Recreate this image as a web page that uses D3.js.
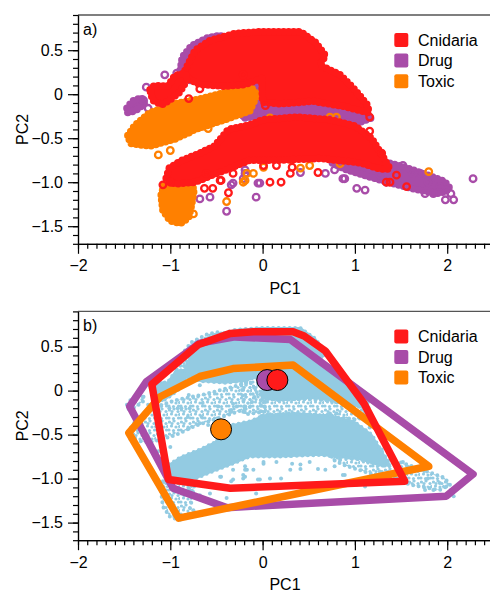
<!DOCTYPE html>
<html>
<head>
<meta charset="utf-8">
<script src="https://cdn.jsdelivr.net/npm/d3@7"></script>
<style>
  body { margin: 0; background: #fff; }
  text { font-family: "Liberation Sans", Arial, Helvetica, sans-serif; }
</style>
</head>
<body>
<svg id="chart" width="490" height="594"></svg>
<script>
// ---- data (PC1, PC2) ----
const seriesNames = ["Cnidaria", "Drug", "Toxic"];
const seriesColors = ["#ff1a1a", "#a84ca8", "#ff8000"];
const cloudColor = "#93cbe2";

const xTicks = [-2, -1, 0, 1, 2];
const xTickLabels = ["\u22122", "\u22121", "0", "1", "2"];
const yTicks = [-1.5, -1, -0.5, 0, 0.5];
const yTickLabels = ["\u22121.5", "\u22121.0", "\u22120.5", "0", "0.5"];

// outlines of the areas where the points are so dense they overlap into a solid patch
const cnidariaBlobs = [
  [[-0.84,0.27],[-0.73,0.50],[-0.57,0.61],[-0.30,0.69],[-0.03,0.71],[0.41,0.71],[0.57,0.59],[0.68,0.44],
   [0.62,0.33],[0.84,0.22],[1.00,0.05],[1.14,-0.13],[1.15,-0.21],[0.89,-0.14],[0.55,-0.08],[0.19,-0.11],
   [0.00,-0.09],[-0.01,0.18],[-0.19,0.11],[-0.41,0.09],[-0.68,0.11],[-0.81,0.18]],
  [[-1.22,0.05],[-1.17,0.10],[-1.03,0.09],[-0.95,0.21],[-0.84,0.24],[-0.82,0.16],[-0.90,0.02],
   [-1.00,-0.06],[-1.09,-0.12],[-1.19,-0.07]],
  [[-1.01,-0.84],[-0.89,-0.76],[-0.68,-0.67],[-0.52,-0.59],[-0.37,-0.40],[-0.14,-0.35],[0.00,-0.29],
   [0.37,-0.26],[0.73,-0.29],[1.00,-0.36],[1.18,-0.50],[1.32,-0.74],[1.38,-0.85],[1.27,-0.85],
   [1.06,-0.78],[0.62,-0.73],[0.19,-0.75],[-0.14,-0.75],[-0.35,-0.84],[-0.57,-0.93],[-0.73,-1.00],
   [-0.95,-1.02],[-1.05,-0.97]]
];
const drugBlobs = [
  [[-1.47,-0.16],[-1.41,-0.08],[-1.31,-0.04],[-1.28,-0.11],[-1.38,-0.19],[-1.46,-0.21]],
  [[-0.90,0.22],[-0.87,0.42],[-0.77,0.55],[-0.60,0.64],[-0.45,0.67],[-0.45,0.30],[-0.80,0.15]],
  [[-0.24,0.15],[-0.01,0.19],[0.03,-0.24],[-0.19,-0.27]],
  [[-0.02,-0.04],[0.30,-0.09],[0.70,-0.11],[1.05,-0.18],[1.18,-0.27],[1.02,-0.33],[0.70,-0.29],
   [0.30,-0.26],[-0.02,-0.29]],
  [[0.75,-0.66],[1.06,-0.66],[1.33,-0.77],[1.54,-0.83],[1.76,-0.91],[1.97,-0.99],[2.03,-1.07],
   [1.92,-1.13],[1.65,-1.08],[1.43,-1.02],[1.16,-0.94],[0.89,-0.85],[0.75,-0.78]]
];
const toxicBlobs = [
  [[-1.46,-0.47],[-1.38,-0.35],[-1.22,-0.21],[-0.95,-0.11],[-0.62,-0.04],[-0.30,0.05],[-0.14,0.10],
   [-0.06,-0.01],[-0.14,-0.19],[-0.41,-0.29],[-0.73,-0.40],[-0.95,-0.51],[-1.22,-0.59],[-1.43,-0.56]],
  [[-1.07,-1.04],[-0.89,-1.02],[-0.74,-1.07],[-0.77,-1.26],[-0.80,-1.40],[-0.89,-1.47],[-1.00,-1.44],
   [-1.08,-1.32],[-1.10,-1.15]]
];

// single points that stand apart from the dense patches
const cnidariaPoints = [
  [1.56,-1.05],[1.34,-1.00],[1.45,-0.92],[0.08,-1.00],[0.20,-1.00],[0.30,-0.90],[0.32,-0.83],[0.60,-0.89],
  [1.16,-0.42],[1.29,-0.67],[1.38,-1.00],[0.15,-0.81],[0.01,-0.81],[0.03,-0.13],[-1.00,-1.00],[-1.08,-1.03],
  [-0.37,-1.12],[-0.46,-0.98],[-0.61,-0.90],[-0.80,-0.05],[-0.68,0.06],[-0.21,0.22],[-0.54,-1.07],
  [-0.63,-1.07],[-0.32,-0.90],[-0.45,-0.98],[1.16,-0.26]
];
const drugPoints = [
  [2.28,-0.96],[1.99,-1.09],[1.92,-1.05],[1.76,-1.13],[1.98,-1.20],[1.52,-0.81],[1.11,-1.09],[1.02,-1.07],
  [0.89,-0.96],[-0.07,-1.17],[-0.03,-1.01],[-0.19,-0.90],[1.13,-0.26],[-1.26,0.08],[-1.29,-0.07],
  [-0.97,0.05],[-0.88,-0.20],[-0.79,-0.20],[-1.06,0.22],[-0.93,0.24],[-0.59,-0.90],[-0.68,-1.19],
  [-0.39,-1.33],[-0.97,-1.01],[-0.32,-1.01],[-1.24,-0.16],[-0.92,-0.20],[-1.01,-0.20],[-0.57,-1.17],
  [-0.34,-1.03],[-0.19,-0.86],[-0.95,-1.11],[1.71,-0.90],[1.79,-1.00],[1.34,-1.00],[1.63,-0.90],
  [0.19,-0.27],[-0.21,-0.24],[-0.05,-1.01],[-0.21,-0.96],[1.85,-1.13],[0.68,-0.90],[0.87,-0.96],
  [0.41,-0.89],[0.78,-0.86],[1.27,-0.92],[2.04,-1.13],[2.07,-1.20]
];
const toxicPoints = [
  [1.80,-0.88],[0.84,-0.79],[0.51,-0.81],[0.41,-0.84],[0.30,-0.74],[-0.21,-1.00],[-0.10,-0.90],
  [0.80,-0.26],[0.73,-0.26],[-1.13,-0.69],[-1.00,-0.64],[-0.80,-0.43],[-0.68,-0.37],[-0.59,-0.39],
  [-0.35,-0.24],[-0.28,-0.18],[-0.39,-1.22],[-0.80,-1.11],[-0.17,-0.90],[-0.19,-0.98],[-0.77,-1.15],
  [-0.75,-1.36],[-0.66,-0.30],[-0.81,-0.30],[-0.48,-0.18],[-0.65,-0.14],[-0.34,-0.22],[-0.19,-0.18],
  [-0.32,-0.15],[0.08,-0.27],[0.24,-0.30],[0.57,-0.31],[0.01,-0.83],[0.11,-0.69],[0.22,-0.73],[0.44,-0.72]
];

// convex hulls and centroids of panel b
const hullCnidaria = [[-1.20,0.07],[-1.02,-1.01],[-0.35,-1.11],[1.54,-1.03],[1.10,-0.15],[0.68,0.45],
  [0.45,0.62],[0.33,0.67],[-0.10,0.67],[-0.35,0.65],[-0.70,0.52]];
const hullDrug = [[-1.44,-0.18],[-1.26,0.10],[-0.68,0.54],[-0.30,0.61],[0.30,0.58],[2.28,-0.95],
  [1.99,-1.20],[-0.39,-1.33],[-0.97,-1.11]];
const hullToxic = [[-1.45,-0.48],[-0.91,-1.45],[1.80,-0.86],[0.33,0.29],[-0.32,0.25],[-0.68,0.16],[-1.11,-0.07]];
const centroidCnidaria = [0.16, 0.12];
const centroidDrug = [0.05, 0.12];
const centroidToxic = [-0.45, -0.44];

// ---- drawing ----
const svg = d3.select("#chart");
const x = d3.scaleLinear().domain([-2, 2.5]).range([78, 493.35]);

// uneven dotted texture for the looser parts of the cloud in panel b
const pat = svg.append("defs").append("pattern")
  .attr("id", "speckle").attr("width", 12).attr("height", 12)
  .attr("patternUnits", "userSpaceOnUse");
[[1.5, 2], [6, 1], [10, 3.5], [3.5, 6], [8, 7], [1, 10], [5.5, 10.5], [10.5, 10], [11.5, 6.5], [4, 3.5]]
  .forEach(p => pat.append("circle").attr("cx", p[0]).attr("cy", p[1]).attr("r", 1.6).attr("fill", cloudColor));

const series = [
  { name: "Drug", color: seriesColors[1], blobs: drugBlobs, points: drugPoints },
  { name: "Toxic", color: seriesColors[2], blobs: toxicBlobs, points: toxicPoints },
  { name: "Cnidaria", color: seriesColors[0], blobs: cnidariaBlobs, points: cnidariaPoints }
];

function drawFrame(top, bottom, label) {
  const y = d3.scaleLinear().domain([-1.7, 0.9]).range([bottom, top]);
  const g = svg.append("g");

  // top border
  g.append("line")
    .attr("x1", 78).attr("x2", 490).attr("y1", top).attr("y2", top)
    .attr("stroke", "#555").attr("stroke-width", 1.3);

  const minorX = d3.range(-20, 25).map(d => d / 10);
  const minorY = d3.range(-17, 10).map(d => d / 10);

  g.append("g").attr("transform", `translate(0,${bottom})`)
    .call(d3.axisBottom(x).tickValues(minorX).tickSize(5).tickSizeOuter(0).tickFormat(""));
  g.append("g").attr("transform", `translate(0,${bottom})`)
    .call(d3.axisBottom(x).tickValues(xTicks).tickSize(10).tickSizeOuter(0).tickPadding(6)
      .tickFormat((d, i) => xTickLabels[i]));
  g.append("g").attr("transform", "translate(78,0)")
    .call(d3.axisLeft(y).tickValues(minorY).tickSize(5).tickSizeOuter(0).tickFormat(""));
  g.append("g").attr("transform", "translate(78,0)")
    .call(d3.axisLeft(y).tickValues(yTicks).tickSize(10).tickSizeOuter(0).tickPadding(5)
      .tickFormat((d, i) => yTickLabels[i]));

  g.selectAll(".domain, .tick line").attr("stroke", "#000").attr("stroke-width", 1.2);
  g.selectAll(".tick text").attr("font-size", 16).attr("fill", "#000")
    .attr("font-family", '"Liberation Sans", Arial, sans-serif');

  g.append("text").attr("x", 285).attr("y", bottom + 50)
    .attr("text-anchor", "middle").attr("font-size", 16).text("PC1");
  g.append("text").attr("transform", `translate(28,${(top + bottom) / 2}) rotate(-90)`)
    .attr("text-anchor", "middle").attr("font-size", 16).text("PC2");
  g.append("text").attr("x", 83).attr("y", top + 20).attr("font-size", 16).text(label);

  // legend
  const leg = g.append("g");
  seriesNames.forEach((name, i) => {
    const cy = top + 25 + i * 20.6;
    leg.append("rect").attr("x", 394.3).attr("y", cy - 7).attr("width", 14).attr("height", 14)
      .attr("rx", 2).attr("fill", seriesColors[i]);
    leg.append("text").attr("x", 418).attr("y", cy + 5.8).attr("font-size", 16).text(name);
  });
  return y;
}

// panel a: open circles; dense patches get a beaded edge so they read as piled-up circles
const ya = drawFrame(15, 243.8, "a)");
const blobLineA = d3.line().x(d => x(d[0])).y(d => ya(d[1])).curve(d3.curveLinearClosed);
const ga = svg.append("g");
series.forEach(s => {
  ga.selectAll(null).data(s.blobs).enter().append("path")
    .attr("d", blobLineA)
    .attr("fill", s.color).attr("stroke", s.color)
    .attr("stroke-width", 2).attr("stroke-linejoin", "round");
  ga.selectAll(null).data(s.blobs).enter().append("path")
    .attr("d", blobLineA)
    .attr("fill", "none").attr("stroke", s.color)
    .attr("stroke-width", 7.5).attr("stroke-linecap", "round")
    .attr("stroke-dasharray", "0 5");
  ga.selectAll(null).data(s.points).enter().append("circle")
    .attr("cx", d => x(d[0])).attr("cy", d => ya(d[1])).attr("r", 3.3)
    .attr("fill", "none").attr("stroke", s.color).attr("stroke-width", 2.3);
});

// panel b: all observations as small light-blue dots
const yb = drawFrame(311.4, 540.2, "b)");
const blobLineB = d3.line().x(d => x(d[0])).y(d => yb(d[1])).curve(d3.curveLinearClosed);
const gb = svg.append("g");
series.forEach(s => {
  const solid = s.name === "Cnidaria";
  gb.selectAll(null).data(s.blobs).enter().append("path")
    .attr("d", blobLineB)
    .attr("fill", solid ? cloudColor : "url(#speckle)")
    .attr("stroke", solid ? cloudColor : "none").attr("stroke-width", 2);
  gb.selectAll(null).data(s.blobs).enter().append("path")
    .attr("d", blobLineB)
    .attr("fill", "none").attr("stroke", cloudColor)
    .attr("stroke-width", 4).attr("stroke-linecap", "round")
    .attr("stroke-dasharray", "0 5.5");
  gb.selectAll(null).data(s.points).enter().append("circle")
    .attr("cx", d => x(d[0])).attr("cy", d => yb(d[1])).attr("r", 2)
    .attr("fill", cloudColor);
});

const hulls = [
  { hull: hullDrug, color: seriesColors[1] },
  { hull: hullToxic, color: seriesColors[2] },
  { hull: hullCnidaria, color: seriesColors[0] }
];
gb.selectAll(null).data(hulls).enter().append("path")
  .attr("d", d => blobLineB(d.hull))
  .attr("fill", "none").attr("stroke", d => d.color)
  .attr("stroke-width", 7.5).attr("stroke-linejoin", "round");

const centroids = [
  { c: centroidToxic, color: seriesColors[2] },
  { c: centroidDrug, color: seriesColors[1] },
  { c: centroidCnidaria, color: seriesColors[0] }
];
gb.selectAll(null).data(centroids).enter().append("circle")
  .attr("cx", d => x(d.c[0])).attr("cy", d => yb(d.c[1])).attr("r", 10.5)
  .attr("fill", d => d.color).attr("stroke", "#000").attr("stroke-width", 1);
</script>
</body>
</html>
